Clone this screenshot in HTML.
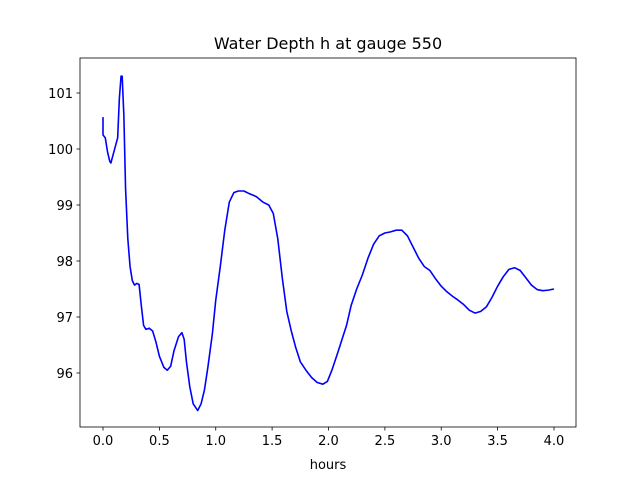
<!DOCTYPE html>
<html><head><meta charset="utf-8"><style>body{margin:0;background:#fff}svg{display:block}text{font-family:"DejaVu Sans","Liberation Sans",sans-serif;fill:#000}</style></head>
<body>
<svg width="640" height="480" viewBox="0 0 640 480">
<rect x="80" y="58" width="496" height="369" fill="#fff"/>
<g transform="matrix(112.75 0 0 -56 103 5749)">
<path vector-effect="non-scaling-stroke" fill="none" stroke="#0000ff" stroke-width="1.6" stroke-linejoin="round" d="M0,100.57 L0,100.25 L0.02,100.2 L0.04,99.95 L0.06,99.78 L0.07,99.75 L0.09,99.9 L0.11,100.05 L0.13,100.2 L0.145,100.9 L0.16,101.3 L0.17,101.3 L0.185,100.6 L0.2,99.3 L0.22,98.4 L0.24,97.9 L0.26,97.65 L0.28,97.57 L0.3,97.6 L0.32,97.58 L0.34,97.2 L0.36,96.85 L0.38,96.78 L0.41,96.8 L0.44,96.75 L0.47,96.55 L0.5,96.3 L0.54,96.1 L0.57,96.05 L0.6,96.12 L0.63,96.4 L0.67,96.65 L0.7,96.72 L0.72,96.6 L0.74,96.2 L0.77,95.75 L0.8,95.45 L0.84,95.33 L0.87,95.45 L0.9,95.7 L0.93,96.1 L0.97,96.7 L1.0,97.3 L1.04,97.9 L1.08,98.55 L1.12,99.05 L1.16,99.22 L1.2,99.25 L1.25,99.25 L1.3,99.2 L1.36,99.15 L1.42,99.05 L1.47,99.0 L1.51,98.85 L1.55,98.4 L1.59,97.7 L1.63,97.1 L1.67,96.75 L1.71,96.45 L1.75,96.2 L1.8,96.05 L1.85,95.92 L1.9,95.83 L1.95,95.8 L1.99,95.85 L2.03,96.05 L2.08,96.35 L2.12,96.6 L2.16,96.85 L2.2,97.2 L2.25,97.5 L2.3,97.75 L2.35,98.05 L2.4,98.3 L2.45,98.45 L2.5,98.5 L2.55,98.52 L2.6,98.55 L2.65,98.55 L2.7,98.45 L2.75,98.25 L2.8,98.05 L2.85,97.9 L2.9,97.83 L2.95,97.68 L3.0,97.55 L3.05,97.45 L3.1,97.37 L3.15,97.3 L3.2,97.22 L3.25,97.12 L3.3,97.07 L3.35,97.1 L3.4,97.18 L3.45,97.35 L3.5,97.55 L3.55,97.72 L3.6,97.85 L3.65,97.88 L3.7,97.83 L3.75,97.7 L3.8,97.57 L3.85,97.49 L3.9,97.47 L3.95,97.48 L4.0,97.5"/>
</g>
<rect x="80" y="58" width="496" height="369" fill="none" stroke="#000" stroke-width="0.8"/>
<g stroke="#000" stroke-width="0.8">
<line x1="103" y1="427" x2="103" y2="430.5"/><line x1="159.4" y1="427" x2="159.4" y2="430.5"/><line x1="215.75" y1="427" x2="215.75" y2="430.5"/><line x1="272.1" y1="427" x2="272.1" y2="430.5"/><line x1="328.5" y1="427" x2="328.5" y2="430.5"/><line x1="384.9" y1="427" x2="384.9" y2="430.5"/><line x1="441.25" y1="427" x2="441.25" y2="430.5"/><line x1="497.6" y1="427" x2="497.6" y2="430.5"/><line x1="554" y1="427" x2="554" y2="430.5"/>
<line x1="76.5" y1="93" x2="80" y2="93"/><line x1="76.5" y1="149" x2="80" y2="149"/><line x1="76.5" y1="205" x2="80" y2="205"/><line x1="76.5" y1="261" x2="80" y2="261"/><line x1="76.5" y1="317" x2="80" y2="317"/><line x1="76.5" y1="373" x2="80" y2="373"/>
</g>
<g font-size="13" text-anchor="middle">
<text x="103" y="445">0.0</text><text x="159.4" y="445">0.5</text><text x="215.75" y="445">1.0</text><text x="272.1" y="445">1.5</text><text x="328.5" y="445">2.0</text><text x="384.9" y="445">2.5</text><text x="441.25" y="445">3.0</text><text x="497.6" y="445">3.5</text><text x="554" y="445">4.0</text>
<text x="328" y="469">hours</text>
</g>
<g font-size="13" text-anchor="end">
<text x="73" y="98">101</text><text x="73" y="154">100</text><text x="73" y="210">99</text><text x="73" y="266">98</text><text x="73" y="322">97</text><text x="73" y="378">96</text>
</g>
<text x="328" y="49" font-size="16" text-anchor="middle">Water Depth h at gauge 550</text>
</svg>
</body></html>
